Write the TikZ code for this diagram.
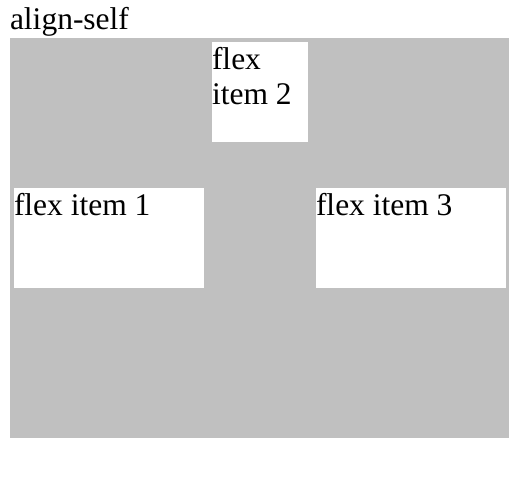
\documentclass[tikz,border=0pt]{standalone}
\usepackage{fontspec}
\setmainfont{Liberation Serif}
\usetikzlibrary{positioning}
\definecolor{silverbg}{RGB}{192,192,192}

\begin{document}
\begin{tikzpicture}[x=1pt,y=-1pt,
   every node/.style={inner sep=0pt,outer sep=0pt},
   flexbox/.style={fill=white,anchor=north west,minimum width=190pt,minimum height=100pt},
   itemtext/.style={anchor=base west,align=left,
                    font=\fontsize{31.5}{35}\selectfont}]

\useasboundingbox (0,0) rectangle (524,476);

\node[itemtext] (title) at (10,29.5) {align-self};
\node[fill=silverbg,anchor=north west,minimum width=499pt,minimum height=400pt]
    (container) at (10,38) {};

% the three items
\node[flexbox] (item1) at (14,188) {};
\node[flexbox,minimum width=96pt] (item2) at (212,42) {};
\node[flexbox] (item3) at (316,188) {};

% base of a two-line node is its last line
\node[itemtext] (label1) at ([yshift=-27pt]item1.north west) {flex item 1};
\node[itemtext] (label2) at ([yshift=-62pt]item2.north west) {flex\\item 2};
\node[itemtext] (label3) at ([yshift=-27pt]item3.north west) {flex item 3};

\end{tikzpicture}
\end{document}
